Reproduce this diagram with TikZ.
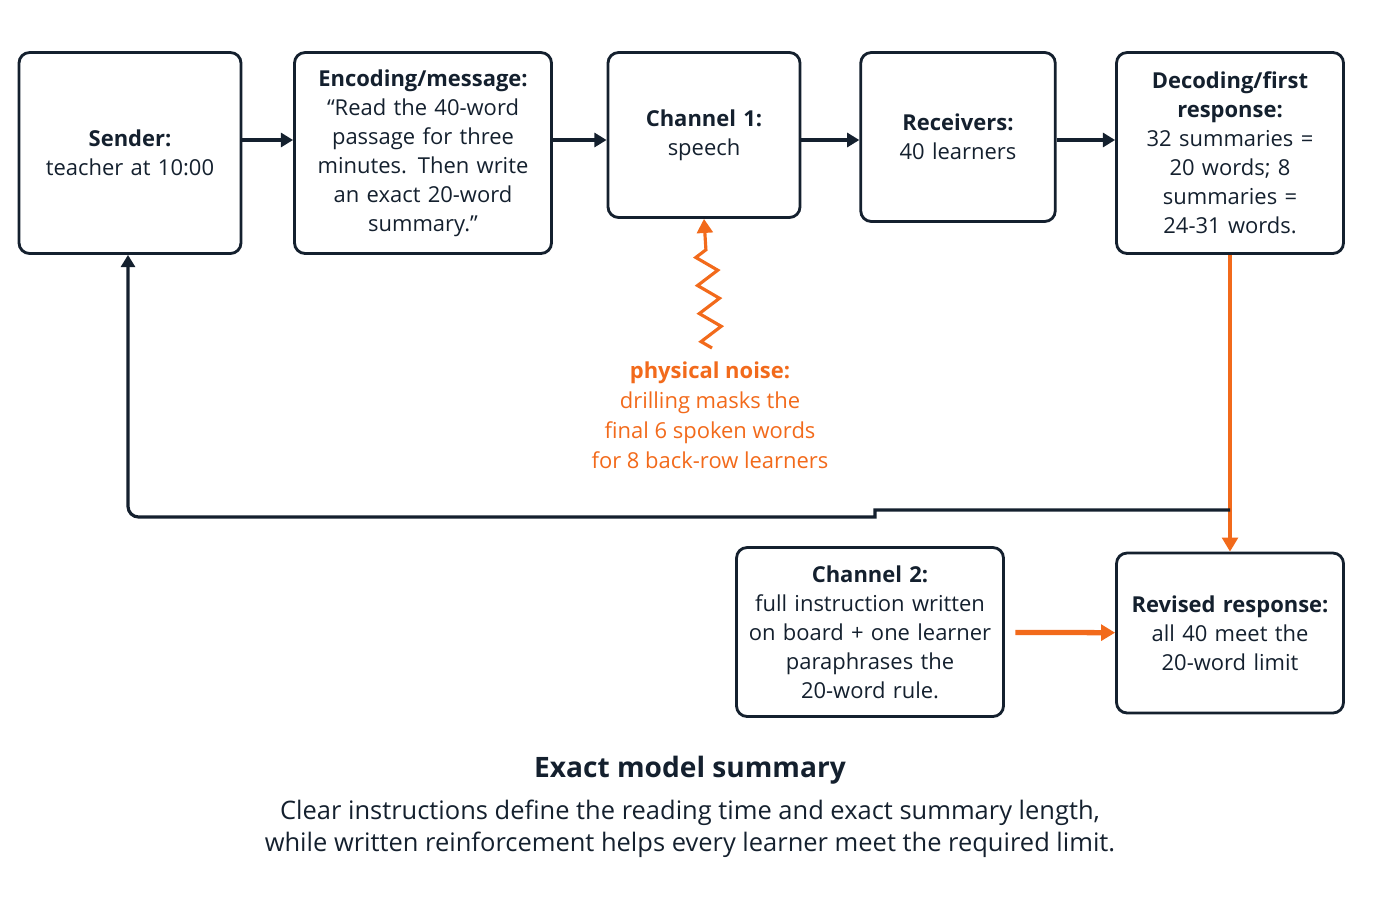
\documentclass[tikz,border=0pt]{standalone}
\usepackage{fontspec}
\setmainfont{Open Sans}
\usetikzlibrary{positioning, arrows.meta, decorations.pathmorphing}

\definecolor{ink}{HTML}{14202E}
\definecolor{noise}{HTML}{F26A1B}

\begin{document}
\begin{tikzpicture}[x=0.02cm, y=-0.02cm,
    % Styles
    box/.style={draw=ink, line width=1.6pt, rounded corners=6pt, align=center, text=ink, font=\fontsize{12.5}{16.5}\selectfont, inner sep=2pt},
    flow-arrow/.style={-{Triangle[length=7pt,width=8pt]}, line width=2.2pt, ink},
    noise-arrow/.style={-{Triangle[length=8pt,width=9pt]}, line width=1.8pt, noise},
    note/.style={font=\fontsize{12.5}{17}\selectfont, text=noise, align=center},
]
\useasboundingbox (0,0) rectangle (1400,900);

% Top row
\node[box, text width=4.3cm, minimum height=4.02cm] (sender) at (130,153) {\textbf{Sender:}\\teacher at 10:00};
\node[box, text width=5cm, minimum height=4.02cm] (message) at (423,153) {\textbf{Encoding/message:}\\``Read the 40-word\\passage for three\\minutes. Then write\\an exact 20-word\\summary.''};
\node[box, text width=3.7cm, minimum height=3.3cm] (channel1) at (704,135) {\textbf{Channel 1:}\\speech};
\node[box, text width=3.75cm, minimum height=3.38cm] (receivers) at (958,137) {\textbf{Receivers:}\\40 learners};
\node[box, text width=4.4cm, minimum height=4.02cm] (decoding) at (1230,153) {\textbf{Decoding/first}\\\textbf{response:}\\32 summaries =\\20 words; 8\\summaries =\\24-31 words.};

\draw[flow-arrow] (sender.east |- 0,140) -- (message.west |- 0,140);
\draw[flow-arrow] (message.east |- 0,140) -- (channel1.west |- 0,140);
\draw[flow-arrow] (channel1.east |- 0,140) -- (receivers.west |- 0,140);
\draw[flow-arrow] (receivers.east |- 0,140) -- (decoding.west |- 0,140);

% Noise
\node[note] (noisetext) at (710,415) {\textbf{physical noise:}\\drilling masks the\\final 6 spoken words\\for 8 back-row learners};
\coordinate (noisestart) at (712,348);
\draw[noise-arrow, decorate, decoration={zigzag, amplitude=6pt, segment length=16pt, post length=12pt}] (noisestart) -- (channel1.south);

% Bottom row
\node[box, text width=5.2cm, minimum height=3.38cm] (channel2) at (870,632) {\textbf{Channel 2:}\\full instruction written\\on board + one learner\\paraphrases the\\20-word rule.};
\node[box, text width=4.4cm, minimum height=3.2cm] (revised) at (1230,633) {\textbf{Revised response:}\\all 40 meet the\\20-word limit};

\draw[noise-arrow, line width=3pt, shorten <=6pt] (channel2) -- (revised);
\draw[noise-arrow] (decoding) -- (revised);

% Feedback loop
\coordinate (fb1) at (1230,510);
\coordinate (fb2) at (875,510);
\coordinate (fb3) at (875,517);
\coordinate (fb4) at (128,517);
\draw[flow-arrow, line width=1.8pt] (fb1) -- (fb2) -- (fb3) [rounded corners=6pt] -- (fb4) -- (sender.south -| fb4);

% Summary
\node[font=\fontsize{16}{19}\selectfont\bfseries, text=ink] (title) at (690,770) {Exact model summary};
\node[font=\fontsize{14.5}{18.5}\selectfont, text=ink, align=center, below=2pt of title] (summary) {Clear instructions define the reading time and exact summary length,\\while written reinforcement helps every learner meet the required limit.};
\end{tikzpicture}
\end{document}
